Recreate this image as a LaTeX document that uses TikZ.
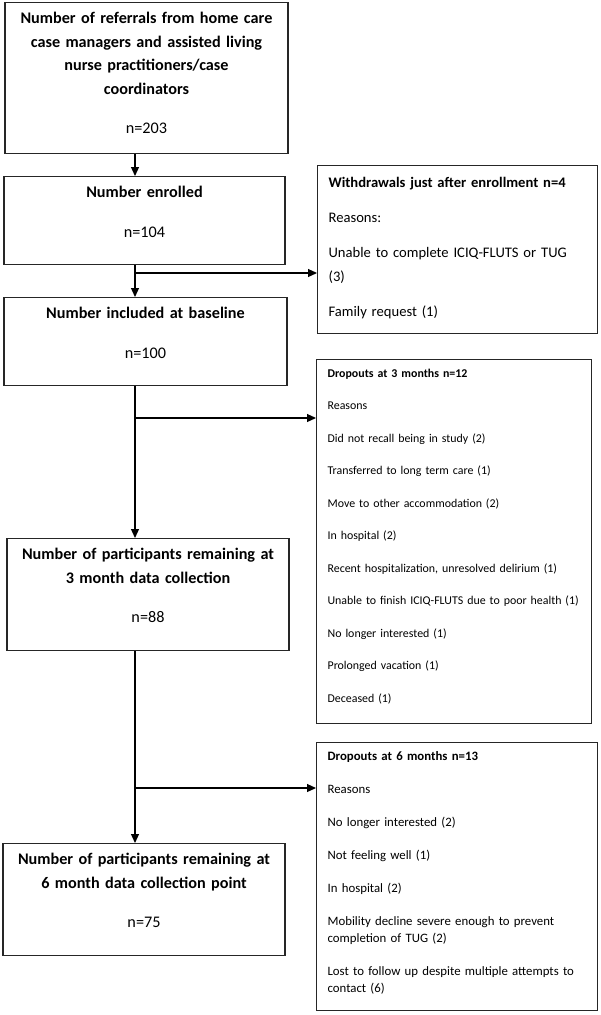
\documentclass[tikz,border=0pt]{standalone}
\usepackage{fontspec}
\setmainfont{Carlito}
\usetikzlibrary{arrows.meta}

\newcommand{\bigtext}{\fontsize{16.2pt}{23.5pt}\selectfont}
\newcommand{\midtext}{\fontsize{14.6pt}{24pt}\selectfont}
\newcommand{\smalltext}{\fontsize{11.9pt}{17pt}\selectfont}
\newcommand{\lasttext}{\fontsize{12.8pt}{17pt}\selectfont}

\tikzset{
  stage/.style={draw=black!85, line width=1.2pt, anchor=north, align=center,
    inner xsep=5pt, inner ysep=0pt, text height=21pt, font=\bigtext\bfseries},
  reasons/.style={draw=black!85, line width=1.2pt, anchor=north west, align=left,
    inner xsep=11pt, inner ysep=0pt},
  flow/.style={line width=1.2pt, -{Triangle[length=9pt,width=8pt]}},
}

\begin{document}
\begin{tikzpicture}[x=1pt,y=-1pt]
  \useasboundingbox (0,0) rectangle (600,1015);

  % main stages
  \node[stage, text width=273pt, text depth=130pt] (referrals) at (146.5,2)
    {Number of referrals from home care\\case managers and assisted living\\nurse practitioners/case\\coordinators\\[16pt]{\mdseries n=203}};
  \node[stage, text width=271pt, text depth=67pt] (enrolled) at (144.5,176)
    {Number enrolled\\[16pt]{\mdseries n=104}};
  \node[stage, text width=273pt, text depth=67pt] (baseline) at (145.5,297)
    {Number included at baseline\\[16pt]{\mdseries n=100}};
  \node[stage, text width=272pt, text depth=91pt] (threemonth) at (148,538)
    {Number of participants remaining at\\3 month data collection\\[16pt]{\mdseries n=88}};
  \node[stage, text width=272pt, text depth=91pt] (sixmonth) at (144,843)
    {Number of participants remaining at\\6 month data collection point\\[16pt]{\mdseries n=75}};

  % losses
  \node[reasons, font=\midtext, text width=258pt, text height=21.6pt, text depth=146.4pt] (withdraw) at (317,165)
    {\textbf{Withdrawals just after enrollment n=4}\\[11pt]
     Reasons:\\[11pt]
     Unable to complete ICIQ-FLUTS or TUG\\(3)\\[11pt]
     Family request (1)};
  \node[reasons, font=\smalltext, text width=253pt, text height=17.5pt, text depth=346.5pt] (drop3) at (316,359)
    {\textbf{Dropouts at 3 months n=12}\\[15.5pt]
     Reasons\\[15.5pt]
     Did not recall being in study (2)\\[15.5pt]
     Transferred to long term care (1)\\[15.5pt]
     Move to other accommodation (2)\\[15.5pt]
     In hospital (2)\\[15.5pt]
     Recent hospitalization, unresolved delirium (1)\\[15.5pt]
     Unable to finish ICIQ-FLUTS due to poor health (1)\\[15.5pt]
     No longer interested (1)\\[15.5pt]
     Prolonged vacation (1)\\[15.5pt]
     Deceased (1)};
  \node[reasons, font=\lasttext, text width=259pt, text height=17.5pt, text depth=250.5pt] (drop6) at (316,742)
    {\textbf{Dropouts at 6 months n=13}\\[16pt]
     Reasons\\[16pt]
     No longer interested (2)\\[16pt]
     Not feeling well (1)\\[16pt]
     In hospital (2)\\[16pt]
     Mobility decline severe enough to prevent\\completion of TUG (2)\\[16pt]
     Lost to follow up despite multiple attempts to\\contact (6)};

  % flow
  \coordinate (spine) at (135,0);
  \coordinate (split1) at (135,273);
  \coordinate (split2) at (135,418);
  \coordinate (split3) at (135,788);
  \draw[flow] (referrals.south -| spine) -- (enrolled.north -| spine);
  \draw[flow] (enrolled.south -| spine) -- (baseline.north -| spine);
  \draw[flow] (baseline.south -| spine) -- (threemonth.north -| spine);
  \draw[flow] (threemonth.south -| spine) -- (sixmonth.north -| spine);
  \draw[flow] (split1) -- (split1 -| withdraw.west);
  \draw[flow] (split2) -- (split2 -| drop3.west);
  \draw[flow] (split3) -- (split3 -| drop6.west);
\end{tikzpicture}
\end{document}
